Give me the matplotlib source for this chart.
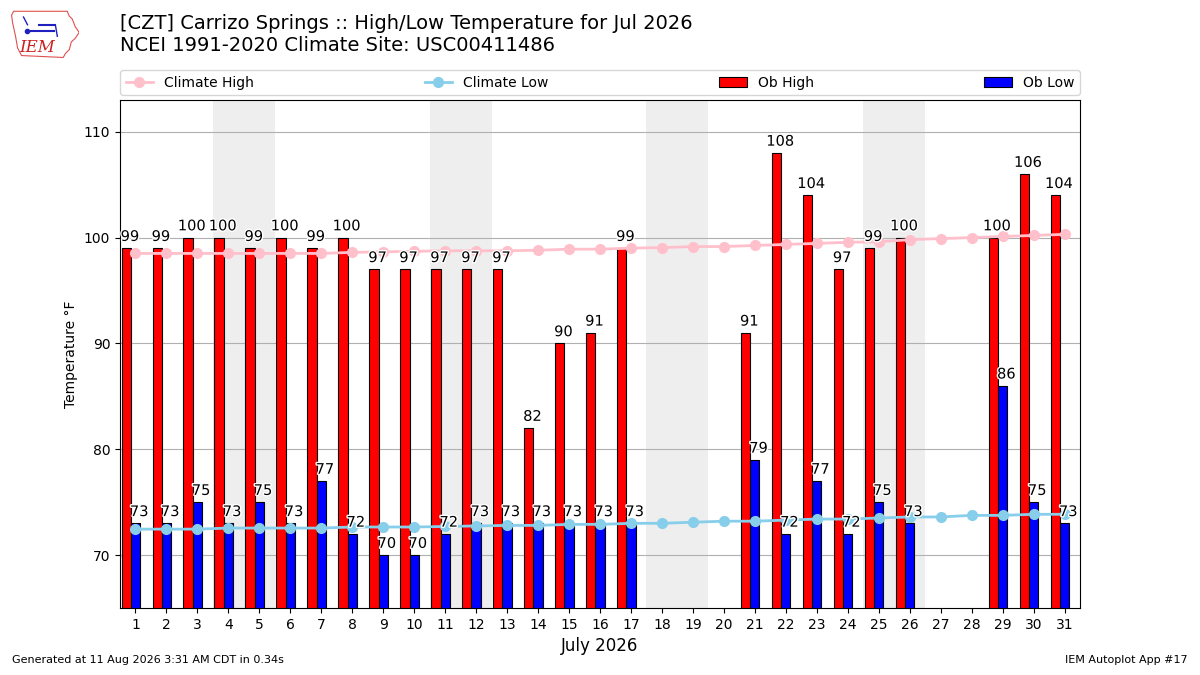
import matplotlib
matplotlib.use("Agg")
import matplotlib.pyplot as plt
import matplotlib.patheffects as pe
from matplotlib.patches import Polygon
import numpy as np

days = list(range(1, 32))
ob_high = [99, 99, 100, 100, 99, 100, 99, 100, 97, 97, 97, 97, 97, 82, 90, 91, 99,
           None, None, None, 91, 108, 104, 97, 99, 100, None, None, 100, 106, 104]
ob_low = [73, 73, 75, 73, 75, 73, 77, 72, 70, 70, 72, 73, 73, 73, 73, 73, 73,
          None, None, None, 79, 72, 77, 72, 75, 73, None, None, 86, 75, 73]
clim_high = [98.5, 98.5, 98.5, 98.5, 98.5, 98.5, 98.5, 98.6, 98.65, 98.7, 98.75, 98.75,
             98.75, 98.8, 98.9, 98.9, 99.0, 99.05, 99.15, 99.15, 99.25, 99.35, 99.45,
             99.55, 99.6, 99.8, 99.9, 100.0, 100.1, 100.2, 100.3]
clim_low = [72.45, 72.45, 72.45, 72.55, 72.55, 72.55, 72.55, 72.65, 72.65, 72.65, 72.7,
            72.75, 72.8, 72.8, 72.9, 72.9, 73.0, 73.0, 73.1, 73.2, 73.2, 73.3, 73.4,
            73.4, 73.5, 73.6, 73.6, 73.75, 73.75, 73.85, 73.85]
weekend_saturdays = [4, 11, 18, 25]
yticks = [70, 80, 90, 100, 110]

fig = plt.figure(figsize=(12, 6.75), dpi=100)
ax = fig.add_axes([0.1, 0.0993, 0.8, 0.7526])

for s in weekend_saturdays:
    ax.axvspan(s - 0.5, s + 1.5, color="#EEEEEE", zorder=0, lw=0)

hd = [d for d, v in zip(days, ob_high) if v is not None]
hv = [v for v in ob_high if v is not None]
ld = [d for d, v in zip(days, ob_low) if v is not None]
lv = [v for v in ob_low if v is not None]

ax.bar(np.array(hd) - 0.3, hv, width=0.3, color="red", edgecolor="k", lw=0.8,
       label="Ob High", zorder=2)
ax.bar(np.array(ld), lv, width=0.3, color="blue", edgecolor="k", lw=0.8,
       label="Ob Low", zorder=2)

ax.plot(days, clim_high, color="pink", marker="o", ms=7, lw=2, label="Climate High", zorder=3)
ax.plot(days, clim_low, color="skyblue", marker="o", ms=7, lw=2, label="Climate Low", zorder=3)

stroke = [pe.withStroke(linewidth=2, foreground="white")]
for d, v in zip(hd, hv):
    ax.text(d - 0.18, v + 0.4, f"{v:.0f}", ha="center", va="bottom", fontsize=10.5,
            zorder=4, path_effects=stroke)
for d, v in zip(ld, lv):
    ax.text(d + 0.12, v + 0.4, f"{v:.0f}", ha="center", va="bottom", fontsize=10.5,
            zorder=4, path_effects=stroke)

ax.set_xlim(0.5, 31.5)
ax.set_ylim(65, 113)
ax.set_xticks(days)
ax.set_yticks(yticks)
ax.yaxis.grid(True, color="#b0b0b0", zorder=1)
ax.set_axisbelow(True)
ax.set_ylabel("Temperature °F")
ax.set_xlabel("July 2026", fontsize=12)

handles, labels = ax.get_legend_handles_labels()
order = [labels.index(n) for n in ["Climate High", "Climate Low", "Ob High", "Ob Low"]]
fig.legend([handles[i] for i in order], [labels[i] for i in order],
           loc="lower left", bbox_to_anchor=(0.1, 0.859, 0.8, 0.04), mode="expand",
           ncol=4, borderaxespad=0, fontsize=10)

fig.text(0.1, 0.979,
         "[CZT] Carrizo Springs :: High/Low Temperature for Jul 2026\n"
         "NCEI 1991-2020 Climate Site: USC00411486",
         ha="left", va="top", fontsize=14, linespacing=1.2)

fig.text(0.01, 0.015, "Generated at 11 Aug 2026 3:31 AM CDT in 0.34s", fontsize=8,
         ha="left", va="bottom")
fig.text(0.99, 0.015, "IEM Autoplot App #17", fontsize=8, ha="right", va="bottom")

# IEM logo approximation
lax = fig.add_axes([0.008, 0.912, 0.058, 0.077])
lax.set_xlim(0, 70)
lax.set_ylim(0, 54)
lax.axis("off")
iowa = Polygon([(4, 50), (58, 50), (60, 45), (63, 42), (66, 34), (70, 28), (66, 22),
                (62, 18), (60, 10), (56, 6), (54, 2), (12, 4), (8, 12), (6, 24),
                (3, 38), (2, 46)], closed=True, fill=False, ec="#e05050", lw=0.8)
lax.add_patch(iowa)
lax.plot([20, 45], [30, 30], color="#2020c0", lw=1.5)
lax.plot([30, 46], [36, 36], color="#2020c0", lw=1.5)
lax.plot([18], [30], "o", color="#2020c0", ms=3)
lax.plot([46, 48], [36, 24], color="#2020c0", lw=1)
lax.plot([14, 18], [44, 36], color="#2020c0", lw=1)
lax.text(10, 8, "IEM", color="#cc2020", fontsize=12, fontstyle="italic",
         family="DejaVu Serif")

fig.savefig("out.png", dpi=100)
